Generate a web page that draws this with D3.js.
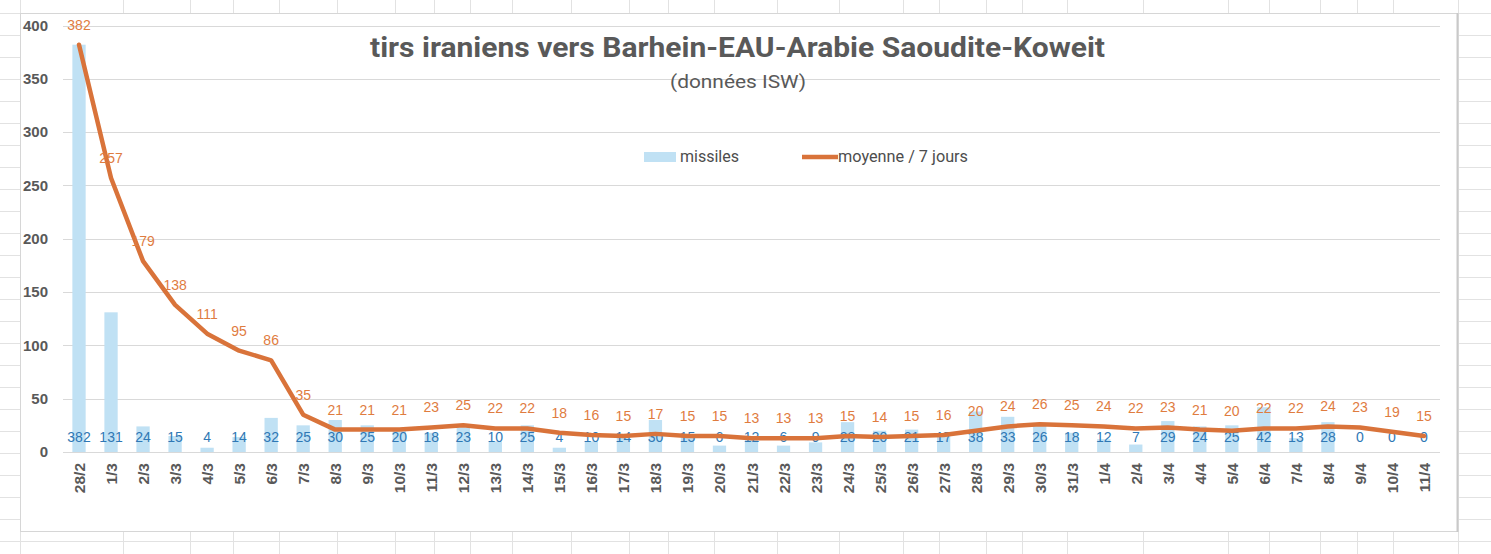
<!DOCTYPE html>
<html>
<head>
<meta charset="utf-8">
<script src="https://cdn.jsdelivr.net/npm/d3@7"></script>
<style>
  body { margin: 0; background: #ffffff; }
  svg { display: block; }
</style>
</head>
<body>
<svg></svg>
<script>
// categories (days)
const days = ["28/2", "1/3", "2/3", "3/3", "4/3", "5/3", "6/3", "7/3", "8/3", "9/3",
              "10/3", "11/3", "12/3", "13/3", "14/3", "15/3", "16/3", "17/3", "18/3", "19/3",
              "20/3", "21/3", "22/3", "23/3", "24/3", "25/3", "26/3", "27/3", "28/3", "29/3",
              "30/3", "31/3", "1/4", "2/4", "3/4", "4/4", "5/4", "6/4", "7/4", "8/4",
              "9/4", "10/4", "11/4"];

// missiles per day
const missiles = [382, 131, 24, 15, 4, 14, 32, 25, 30, 25,
                  20, 18, 23, 10, 25, 4, 10, 14, 30, 15,
                  6, 12, 6, 9, 28, 20, 21, 17, 38, 33,
                  26, 18, 12, 7, 29, 24, 25, 42, 13, 28,
                  0, 0, 0];

// 7 day average
const moyenne7 = [382, 257, 179, 138, 111, 95, 86, 35, 21, 21,
                  21, 23, 25, 22, 22, 18, 16, 15, 17, 15,
                  15, 13, 13, 13, 15, 14, 15, 16, 20, 24,
                  26, 25, 24, 22, 23, 21, 20, 22, 22, 24,
                  23, 19, 15];

const y_ticks = [0, 50, 100, 150, 200, 250, 300, 350, 400];

const title_text = "tirs iraniens vers Barhein-EAU-Arabie Saoudite-Koweit";
const subtitle_text = "(données ISW)";
const legend_labels = ["missiles", "moyenne / 7 jours"];

// spreadsheet columns seen behind the chart
const sheet_cols = [20, 123, 190, 233, 279, 337, 395, 434, 470, 512, 571, 629, 668, 714,
                    777, 839, 903, 939, 986, 1022, 1067, 1143, 1228, 1269, 1320, 1357, 1393, 1458];

const W = 1491, H = 554;
const BAR_COLOR = "#c0e1f4";
const LINE_COLOR = "#d9733a";
const LINE_LABEL = "#df7c3f";
const BAR_LABEL = "#2f78b5";
const GREY = "#595959";
const FONT = "'Liberation Sans', Arial, sans-serif";
const TFONT = "Roboto, 'Liberation Sans', sans-serif";

function d3_make_svg(width, height) {
  var svg = d3.select("svg")
              .attr("width", width)
              .attr("height", height);
  svg.append("rect")
     .attr("width", width)
     .attr("height", height)
     .attr("fill", "#ffffff");
  return svg;
}

function d3_append_sheet(svg) {
  let g = svg.append("g").attr("stroke", "#e2e2e2").attr("stroke-width", 1);
  g.selectAll("line.row")
   .data(d3.range(13, H, 22))
   .enter()
   .append("line")
   .attr("x1", 0).attr("x2", W)
   .attr("y1", d => d + 0.5).attr("y2", d => d + 0.5);
  g.selectAll("line.col")
   .data(sheet_cols)
   .enter()
   .append("line")
   .attr("y1", 0).attr("y2", H)
   .attr("x1", d => d + 0.5).attr("x2", d => d + 0.5);
}

function d3_append_frame(svg) {
  svg.append("rect")
     .attr("x", 20.5).attr("y", 13.5)
     .attr("width", 1437).attr("height", 518)
     .attr("fill", "#ffffff")
     .attr("stroke", "#d6d6d6");
  svg.append("line")
     .attr("x1", 1457.5).attr("x2", 1457.5)
     .attr("y1", 13).attr("y2", 532)
     .attr("stroke", "#c9c9c9")
     .attr("stroke-width", 2);
}

function d3_append_y_grid(svg, y, x0, x1) {
  let g = svg.append("g");
  g.selectAll("line")
   .data(y_ticks)
   .enter()
   .append("line")
   .attr("x1", x0).attr("x2", x1)
   .attr("y1", d => Math.round(y(d)) + 0.5)
   .attr("y2", d => Math.round(y(d)) + 0.5)
   .attr("stroke", "#d9d9d9");
  g.selectAll("text")
   .data(y_ticks)
   .enter()
   .append("text")
   .attr("x", 48)
   .attr("y", d => y(d))
   .attr("dy", "0.35em")
   .attr("text-anchor", "end")
   .attr("font-family", FONT)
   .attr("font-weight", "bold")
   .attr("font-size", 15)
   .attr("fill", GREY)
   .text(d => d);
}

function d3_append_x_labels(svg, x, y) {
  svg.append("g")
     .selectAll("text")
     .data(days)
     .enter()
     .append("text")
     .attr("transform", d => "translate(" + (x(d) + x.bandwidth() / 2 + 6) + "," + (y(0) + 11) + ") rotate(-90)")
     .attr("text-anchor", "end")
     .attr("font-family", FONT)
     .attr("font-weight", "bold")
     .attr("font-size", 15.5)
     .attr("fill", GREY)
     .text(d => d);
}

function d3_append_bars(svg, x, y) {
  let g = svg.append("g");
  g.selectAll("rect")
   .data(missiles)
   .enter()
   .append("rect")
   .attr("x", (d, i) => x(days[i]))
   .attr("y", d => y(d))
   .attr("width", x.bandwidth())
   .attr("height", d => y(0) - y(d))
   .attr("fill", BAR_COLOR);
  // labels sit at the base of the bars
  g.selectAll("text")
   .data(missiles)
   .enter()
   .append("text")
   .attr("x", (d, i) => x(days[i]) + x.bandwidth() / 2)
   .attr("y", y(0) - 15)
   .attr("dy", "0.35em")
   .attr("text-anchor", "middle")
   .attr("font-family", FONT)
   .attr("font-size", 14)
   .attr("fill", BAR_LABEL)
   .text(d => d);
}

function d3_append_line(svg, x, y) {
  let cx = (d, i) => x(days[i]) + x.bandwidth() / 2;
  let line = d3.line()
               .x(cx)
               .y(d => y(d));
  svg.append("path")
     .datum(moyenne7)
     .attr("d", line)
     .attr("fill", "none")
     .attr("stroke", LINE_COLOR)
     .attr("stroke-width", 4.5)
     .attr("stroke-linejoin", "round")
     .attr("stroke-linecap", "round");
  svg.append("g")
     .selectAll("text")
     .data(moyenne7)
     .enter()
     .append("text")
     .attr("x", cx)
     .attr("y", d => y(d) - 20)
     .attr("dy", "0.35em")
     .attr("text-anchor", "middle")
     .attr("font-family", FONT)
     .attr("font-size", 14)
     .attr("fill", LINE_LABEL)
     .text(d => d);
}

function d3_append_titles(svg) {
  svg.append("text")
     .attr("x", 370).attr("y", 57)
     .attr("font-family", TFONT)
     .attr("font-weight", "bold")
     .attr("font-size", 27)
     .attr("textLength", 735)
     .attr("lengthAdjust", "spacingAndGlyphs")
     .attr("fill", GREY)
     .text(title_text);
  svg.append("text")
     .attr("x", 670).attr("y", 88)
     .attr("font-family", TFONT)
     .attr("font-size", 18)
     .attr("textLength", 136)
     .attr("lengthAdjust", "spacingAndGlyphs")
     .attr("fill", GREY)
     .text(subtitle_text);
}

function d3_append_legend(svg) {
  let g = svg.append("g").attr("transform", "translate(644,157)");
  g.append("rect")
   .attr("x", 0).attr("y", -5)
   .attr("width", 32).attr("height", 10)
   .attr("fill", BAR_COLOR);
  g.append("line")
   .attr("x1", 158).attr("x2", 194)
   .attr("y1", 0).attr("y2", 0)
   .attr("stroke", LINE_COLOR)
   .attr("stroke-width", 4.5);
  g.selectAll("text")
   .data(legend_labels)
   .enter()
   .append("text")
   .attr("x", (d, i) => i === 0 ? 36 : 194)
   .attr("y", 5)
   .attr("font-family", TFONT)
   .attr("font-size", 16)
   .attr("textLength", (d, i) => i === 0 ? 59 : 130)
   .attr("lengthAdjust", "spacingAndGlyphs")
   .attr("fill", "#4d4d4d")
   .text(d => d);
}

function make_chart() {
  let svg = d3_make_svg(W, H);
  d3_append_sheet(svg);
  d3_append_frame(svg);

  let x = d3.scaleBand()
            .domain(days)
            .range([63, 1440])
            .paddingInner(0.585)
            .paddingOuter(0.2925);
  let y = d3.scaleLinear()
            .domain([0, 400])
            .range([452, 25.5]);

  d3_append_y_grid(svg, y, 63, 1440);
  d3_append_titles(svg);
  d3_append_legend(svg);
  d3_append_bars(svg, x, y);
  d3_append_line(svg, x, y);
  d3_append_x_labels(svg, x, y);
}

make_chart();
</script>
</body>
</html>
